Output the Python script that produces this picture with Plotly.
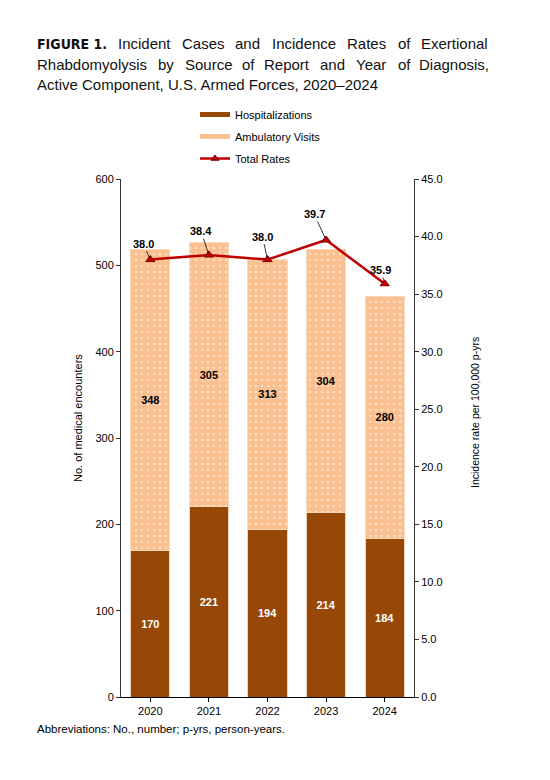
import plotly.graph_objects as go

years = ["2020", "2021", "2022", "2023", "2024"]
hospitalizations = [170, 221, 194, 214, 184]
ambulatory = [348, 305, 313, 304, 280]
total_rates = [38.0, 38.4, 38.0, 39.7, 35.9]
left_ticks = [0, 100, 200, 300, 400, 500, 600]
right_ticks = [0, 5, 10, 15, 20, 25, 30, 35, 40, 45]

# page offset (body margin) and plot area in screen pixels
OFF = 8
L, R, T, B = 121 - OFF, 414 - OFF, 179 - OFF, 697 - OFF
W, H = 550, 780

def px(x):
    return (x - OFF - L) / (R - L)

def py(y):
    return (B - (y - OFF)) / (B - T)

HOSP = "#974706"
AMB = "#FAC090"
RED = "#C00000"
FONT = "Liberation Sans, Arial, sans-serif"

fig = go.Figure()
fig.add_trace(go.Bar(
    x=years, y=hospitalizations, name="Hospitalizations",
    marker=dict(color=HOSP, line=dict(color="#EAD2C0", width=1)),
    text=[str(v) for v in hospitalizations], textposition="inside",
    insidetextanchor="middle",
    textfont=dict(color="white", size=11, family="Liberation Sans, Arial", weight="bold"),
    showlegend=False, hoverinfo="skip"))
fig.add_trace(go.Bar(
    x=years, y=ambulatory, name="Ambulatory Visits",
    marker=dict(color=AMB, line=dict(color="#FBD8BA", width=1),
                pattern=dict(shape=".", fillmode="overlay", fgcolor="white",
                             size=6, solidity=0.12)),
    text=[str(v) for v in ambulatory], textposition="inside",
    insidetextanchor="middle",
    textfont=dict(color="black", size=11, family="Liberation Sans, Arial", weight="bold"),
    showlegend=False, hoverinfo="skip"))
fig.add_trace(go.Scatter(
    x=years, y=total_rates, yaxis="y2", mode="lines+markers", name="Total Rates",
    line=dict(color=RED, width=2.5),
    marker=dict(symbol="triangle-up", size=8, color=RED, line=dict(color="#7F0000", width=1)),
    showlegend=False, hoverinfo="skip"))

# legend proxies
fig.add_trace(go.Scatter(x=[None], y=[None], mode="lines", name="Hospitalizations",
                         line=dict(color=HOSP, width=5), legendgroup="a"))
fig.add_trace(go.Scatter(x=[None], y=[None], mode="lines", name="Ambulatory Visits",
                         line=dict(color=AMB, width=5), legendgroup="b"))
fig.add_trace(go.Scatter(x=[None], y=[None], mode="lines+markers", name="Total Rates",
                         line=dict(color=RED, width=2.5), legendgroup="c",
                         marker=dict(symbol="triangle-up", size=7, color=RED,
                                     line=dict(color="#7F0000", width=1))))

annotations = []
# rate labels (x given as category index)
offsets = [(-7, -16), (-8, -24), (-5, -23), (-12, -26), (-4, -14)]
for i, r in enumerate(total_rates):
    ax, ay = offsets[i]
    annotations.append(dict(
        x=i, y=r, xref="x", yref="y2", text=f"{r:.1f}",
        showarrow=True, arrowhead=0, arrowwidth=0.8,
        arrowcolor=RED if i == 4 else "black",
        ax=ax, ay=ay, standoff=2,
        font=dict(size=11, color="black", family=FONT, weight="bold")))

# title lines (justified by word positions)
title_font = dict(size=15, color="#111111", family=FONT)
line1 = [("Incident", 116), ("Cases", 180), ("and", 233), ("Incidence", 270),
         ("Rates", 345), ("of", 396), ("Exertional", 419)]
line2 = [("Rhabdomyolysis", 35), ("by", 156), ("Source", 183), ("of", 240),
         ("Report", 262), ("and", 318), ("Year", 354), ("of", 396), ("Diagnosis,", 417)]
annotations.append(dict(x=px(35), y=py(44), xref="paper", yref="paper", xanchor="left",
                        yanchor="middle", showarrow=False, text="<b>FIGURE 1.</b>",
                        font=dict(size=14, color="#111111",
                                  family="DejaVu Sans Condensed, Liberation Sans Narrow")))
for w, x in line1:
    annotations.append(dict(x=px(x), y=py(44), xref="paper", yref="paper", xanchor="left",
                            yanchor="middle", showarrow=False, text=w, font=title_font))
for w, x in line2:
    annotations.append(dict(x=px(x), y=py(64), xref="paper", yref="paper", xanchor="left",
                            yanchor="middle", showarrow=False, text=w, font=title_font))
annotations.append(dict(x=px(35), y=py(84), xref="paper", yref="paper", xanchor="left",
                        yanchor="middle", showarrow=False,
                        text="Active Component, U.S. Armed Forces, 2020–2024", font=title_font))

# axis titles
annotations.append(dict(x=px(78), y=py(418), xref="paper", yref="paper", showarrow=False,
                        xanchor="center", yanchor="middle",
                        textangle=-90, text="No. of medical encounters",
                        font=dict(size=11, color="black",
                                  family="Liberation Sans Narrow, Arial Narrow, sans-serif")))
annotations.append(dict(x=px(475), y=py(413), xref="paper", yref="paper", showarrow=False,
                        xanchor="center", yanchor="middle",
                        textangle=-90, text="Incidence rate per 100,000 p-yrs",
                        font=dict(size=10.5, color="black", family=FONT)))
# footnote
annotations.append(dict(x=px(35), y=py(729), xref="paper", yref="paper", xanchor="left",
                        yanchor="middle", showarrow=False,
                        text="Abbreviations: No., number; p-yrs, person-years.",
                        font=dict(size=11.5, color="black", family=FONT)))

fig.update_layout(
    width=W, height=H,
    margin=dict(l=L, r=W - R, t=T, b=H - B, pad=0),
    paper_bgcolor="white", plot_bgcolor="white",
    barmode="stack", bargap=0.33,
    font=dict(family=FONT, size=11, color="black"),
    xaxis=dict(type="category", range=[-0.5, len(years) - 0.5], showline=True,
               linecolor="black", linewidth=1,
               ticks="outside", ticklen=4, tickcolor="black", showgrid=False,
               tickfont=dict(size=11), fixedrange=True),
    yaxis=dict(range=[0, 600], tickvals=left_ticks, showline=True, linecolor="#333333",
               linewidth=1, ticks="outside", ticklen=4, tickcolor="#333333",
               showgrid=False, zeroline=False, tickfont=dict(size=11)),
    yaxis2=dict(range=[0, 45], tickvals=right_ticks, tickformat=".1f", overlaying="y",
                side="right", showline=True, linecolor="#333333", linewidth=1,
                ticks="outside", ticklen=4, tickcolor="#333333", showgrid=False,
                zeroline=False, tickfont=dict(size=11)),
    legend=dict(x=px(195), y=py(100), xanchor="left", yanchor="top",
                traceorder="grouped", tracegroupgap=3,
                font=dict(size=11, family=FONT), bgcolor="rgba(0,0,0,0)"),
    annotations=annotations,
)

fig.write_html("out.html")
